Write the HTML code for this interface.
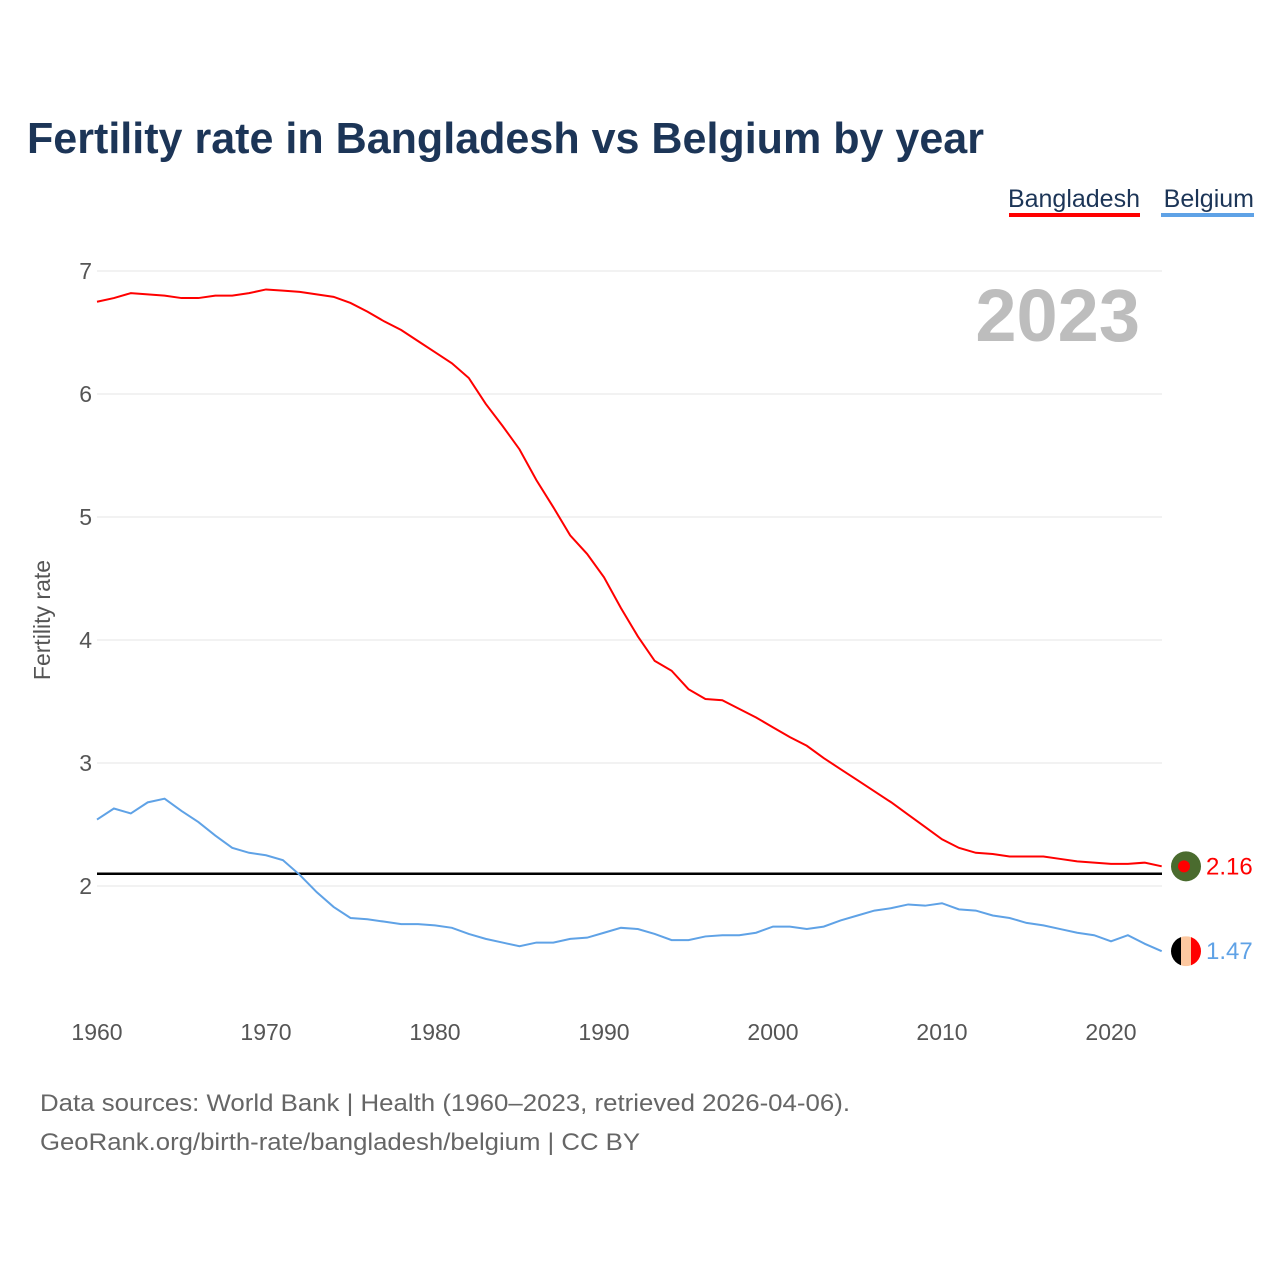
<!DOCTYPE html>
<html><head><meta charset="utf-8"><style>
body{margin:0;background:#fff;font-family:"Liberation Sans",sans-serif;}
#wrap{position:relative;width:1280px;height:1280px;overflow:hidden}
</style></head><body>
<div id="wrap">
<svg id="svg" width="1280" height="1280">
<text x="27" y="153" font-size="44" font-weight="bold" fill="#1c3557" textLength="957" lengthAdjust="spacingAndGlyphs">Fertility rate in Bangladesh vs Belgium by year</text>
<g><text x="1140" y="207" font-size="25" fill="#1c3557" text-anchor="end">Bangladesh</text><rect x="1009" y="213" width="131" height="4" fill="#ff0000"/></g>
<g><text x="1254" y="207" font-size="25" fill="#1c3557" text-anchor="end">Belgium</text><rect x="1161" y="213" width="93" height="4" fill="#5fa2e6"/></g>
<text x="1140" y="341" font-size="74" font-weight="bold" fill="#bdbdbd" text-anchor="end">2023</text>
<text transform="translate(50,620) rotate(-90)" font-size="23" fill="#555" text-anchor="middle">Fertility rate</text>
<g id="grid"></g><g id="lines"></g>
<text x="40" y="1111" font-size="24" fill="#666" textLength="810" lengthAdjust="spacingAndGlyphs">Data sources: World Bank | Health (1960–2023, retrieved 2026-04-06).</text>
<text x="40" y="1150" font-size="24" fill="#666" textLength="600" lengthAdjust="spacingAndGlyphs">GeoRank.org/birth-rate/bangladesh/belgium | CC BY</text>
</svg></div>
<script>
const years=[];for(let y=1960;y<=2023;y++)years.push(y);
const bangladesh=[6.75,6.78,6.82,6.81,6.80,6.78,6.78,6.80,6.80,6.82,6.85,6.84,6.83,6.81,6.79,6.74,6.67,6.59,6.52,6.43,6.34,6.25,6.13,5.92,5.74,5.55,5.30,5.08,4.85,4.70,4.51,4.26,4.03,3.83,3.75,3.60,3.52,3.51,3.44,3.37,3.29,3.21,3.14,3.04,2.95,2.86,2.77,2.68,2.58,2.48,2.38,2.31,2.27,2.26,2.24,2.24,2.24,2.22,2.20,2.19,2.18,2.18,2.19,2.16];
const belgium=[2.54,2.63,2.59,2.68,2.71,2.61,2.52,2.41,2.31,2.27,2.25,2.21,2.09,1.95,1.83,1.74,1.73,1.71,1.69,1.69,1.68,1.66,1.61,1.57,1.54,1.51,1.54,1.54,1.57,1.58,1.62,1.66,1.65,1.61,1.56,1.56,1.59,1.60,1.60,1.62,1.67,1.67,1.65,1.67,1.72,1.76,1.80,1.82,1.85,1.84,1.86,1.81,1.80,1.76,1.74,1.70,1.68,1.65,1.62,1.60,1.55,1.60,1.53,1.47];
const yTicks=[2,3,4,5,6,7];
const xTicks=[1960,1970,1980,1990,2000,2010,2020];
const replacement=2.1;
const X=y=>97+(y-1960)*(1111-97)/60;
const Y=v=>886-(v-2)*123;
const NS="http://www.w3.org/2000/svg";
function mk(t,a,p){const e=document.createElementNS(NS,t);for(const k in a)e.setAttribute(k,a[k]);p.appendChild(e);return e;}
const grid=document.getElementById('grid'),lines=document.getElementById('lines');
yTicks.forEach(v=>{
 const l=mk('line',{x1:97,x2:1162,y1:Y(v),y2:Y(v),stroke:'#e6e6e6','stroke-width':1},grid);
 
 
 const t=mk('text',{x:92,y:Y(v)+8,'font-size':23,fill:'#555','text-anchor':'end'},grid);t.textContent=v;
 
 
});
xTicks.forEach(v=>{
 const t=mk('text',{x:X(v),y:1040,'font-size':23,fill:'#555','text-anchor':'middle'},grid);t.textContent=v;
 
 
});
const rl=mk('line',{x1:97,x2:1162,y1:Y(replacement),y2:Y(replacement),stroke:'#000','stroke-width':2.5},lines);


function series(vals,color,name){
 const p=mk('polyline',{points:vals.map((v,i)=>X(years[i])+','+Y(v)).join(' '),fill:'none',stroke:color,'stroke-width':2},lines);
 
 
}
series(bangladesh,'#ff0000','bangladesh');
series(belgium,'#5fa2e6','belgium');
const bx=1186,bLast=bangladesh[bangladesh.length-1],gLast=belgium[belgium.length-1];
const m1=mk('g',{},lines);


mk('circle',{cx:bx,cy:Y(bLast),r:15,fill:'#4a6b2e'},m1);
mk('circle',{cx:bx-2,cy:Y(bLast),r:6,fill:'#ff0000'},m1);
const t1=mk('text',{x:1206,y:Y(bLast)+8,'font-size':24,fill:'#ff0000'},lines);t1.textContent=bLast.toFixed(2);


const m2=mk('g',{},lines);


const cp=mk('clipPath',{id:'bc'},m2);mk('circle',{cx:bx,cy:Y(gLast),r:15},cp);
const g2=mk('g',{'clip-path':'url(#bc)'},m2);
mk('rect',{x:bx-15,y:Y(gLast)-15,width:10,height:30,fill:'#000'},g2);
mk('rect',{x:bx-5,y:Y(gLast)-15,width:10,height:30,fill:'#fdc8a0'},g2);
mk('rect',{x:bx+5,y:Y(gLast)-15,width:10,height:30,fill:'#ff0000'},g2);
const t2=mk('text',{x:1206,y:Y(gLast)+8,'font-size':24,fill:'#5fa2e6'},lines);t2.textContent=gLast.toFixed(2);


</script></body></html>
